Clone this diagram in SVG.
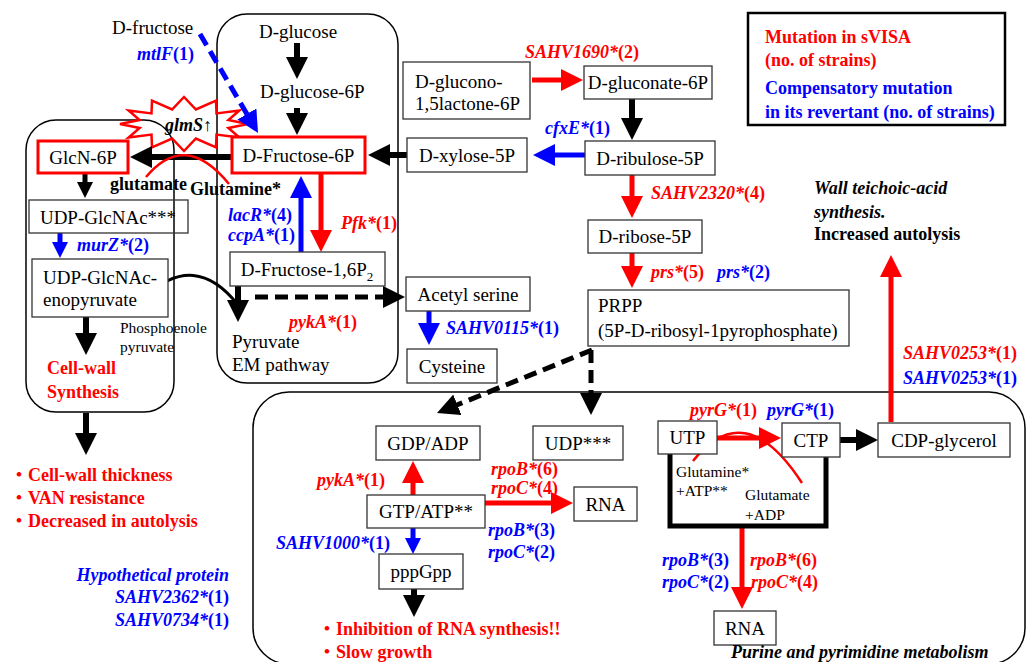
<svg xmlns="http://www.w3.org/2000/svg" width="1028" height="662" viewBox="0 0 1028 662" font-family="'Liberation Serif', 'Times New Roman', Times, 'DejaVu Serif', serif">
<defs>
<style>
text{font-family:'Liberation Serif','Times New Roman',Times,'Noto Sans CJK JP',serif}
.cont{fill:none;stroke:#000;stroke-width:1.5}
.box{fill:#fff;stroke:#333;stroke-width:1.3}
.rbox{fill:#fff;stroke:#f00;stroke-width:3}
.t{font-size:19px;fill:#000}
.ctr{text-anchor:middle}
.sm{font-size:15.5px}
.lb{font-size:18px;font-weight:bold}
.r{fill:#f00}
.b{fill:#00f}
.k{fill:#000}
.it{font-style:italic}
.ak{stroke:#000;stroke-width:6;fill:none;marker-end:url(#hk)}
.aks{stroke:#000;stroke-width:5;fill:none;marker-end:url(#hks)}
.akd{stroke:#000;stroke-width:5;fill:none;stroke-dasharray:13 7;marker-end:url(#hk)}
.ar{stroke:#f00;stroke-width:5;fill:none;marker-end:url(#hr)}
.ab{stroke:#00f;stroke-width:5;fill:none;marker-end:url(#hb)}
.abs{stroke:#00f;stroke-width:5;fill:none;marker-end:url(#hbs)}
.abd{stroke:#00f;stroke-width:5;fill:none;stroke-dasharray:13 7;marker-end:url(#hb)}
.arc{stroke:#f00;stroke-width:2.5;fill:none}
</style>
<marker id="hk" viewBox="0 0 22 22" markerWidth="22" markerHeight="22" markerUnits="userSpaceOnUse" refX="2" refY="11" orient="auto"><path d="M0,0 L22,11 L0,22 z" fill="#000"/></marker>
<marker id="hks" viewBox="0 0 16 16" markerWidth="16" markerHeight="16" markerUnits="userSpaceOnUse" refX="2" refY="8" orient="auto"><path d="M0,0 L16,8 L0,16 z" fill="#000"/></marker>
<marker id="hr" viewBox="0 0 22 22" markerWidth="22" markerHeight="22" markerUnits="userSpaceOnUse" refX="2" refY="11" orient="auto"><path d="M0,0 L22,11 L0,22 z" fill="#f00"/></marker>
<marker id="hb" viewBox="0 0 22 22" markerWidth="22" markerHeight="22" markerUnits="userSpaceOnUse" refX="2" refY="11" orient="auto"><path d="M0,0 L22,11 L0,22 z" fill="#00f"/></marker>
<marker id="hbs" viewBox="0 0 16 16" markerWidth="16" markerHeight="16" markerUnits="userSpaceOnUse" refX="2" refY="8" orient="auto"><path d="M0,0 L16,8 L0,16 z" fill="#00f"/></marker>
</defs>
<rect width="1028" height="662" fill="#fff"/>

<g id="containers">
<rect class="cont" x="26" y="120" width="148" height="292" rx="30"/>
<rect class="cont" x="217" y="14" width="181" height="369" rx="30"/>
<rect class="cont" x="253" y="392" width="772" height="272" rx="36"/>
</g>

<g id="legend">
<rect x="748" y="13" width="257" height="112" fill="#fff" stroke="#000" stroke-width="2.5"/>
<text class="lb r" x="765" y="43">Mutation in sVISA</text>
<text class="lb r" x="765" y="66">(no. of strains)</text>
<text class="lb b" x="765" y="94">Compensatory mutation</text>
<text class="lb b" x="765" y="118">in its revertant (no. of strains)</text>
</g>

<g id="glmS">
<polygon points="248,124 228.4,127.9 239.4,137.5 216.5,134.6 216,147.4 195.9,138.5 184,151 172.1,138.5 152,147.4 151.5,134.6 128.6,137.5 139.6,127.9 120,124 139.6,120.1 128.6,110.5 151.5,113.4 152,100.6 172.1,109.5 184,97 195.9,109.5 216,100.6 216.5,113.4 239.4,110.5 228.4,120.1" fill="none" stroke="#f00" stroke-width="2.5"/>
<text class="lb" x="165" y="131" font-size="17"><tspan class="it">glmS</tspan>↑</text>
</g>

<g id="connectors">
<path class="ak" d="M297,43 V59"/>
<path class="ak" d="M297,108 V115"/>
<path class="ak" d="M232,157 H150"/>
<path class="ak" d="M407,155 H388"/>
<path class="ak" d="M632,99 V120"/>
<path class="aks" d="M85,174 V184"/>
<path class="ak" d="M86,317 V335"/>
<path class="ak" d="M86,413 V435"/>
<path class="ak" d="M238,286 V302"/>
<path class="ak" d="M840,440 H858"/>
<path class="ak" d="M414,589 V597"/>
<path class="akd" d="M591,350 V395"/>
<path class="akd" d="M592,350 L455.5,405.5"/>
<path class="akd" d="M255,297 H385"/>
<path d="M145,297 Q195,250 238,305" fill="none" stroke="#000" stroke-width="3"/>
<path class="ar" d="M532,80 H563"/>
<path class="ar" d="M632,175 V198"/>
<path class="ar" d="M632,253 V268"/>
<path class="ar" d="M321,173 V232"/>
<path class="ar" d="M413,495 V481"/>
<path class="ar" d="M485,503 H553"/>
<path class="ar" d="M717,438 H761" stroke-width="6"/>
<path class="ar" d="M742,527 V589"/>
<path class="ar" d="M891,422 V275"/>
<path class="ab" d="M301,252 V196"/>
<path class="ab" d="M585,155 H553"/>
<path class="abs" d="M60,233 V244"/>
<path class="ab" d="M429,311 V325"/>
<path class="abs" d="M413,528 V540"/>
<path class="abd" d="M200,34 L247.9,115.7"/>
<path class="arc" d="M146,177 Q185,130 229,184"/>
<path class="arc" d="M693,461 Q745,395 802,483"/>
<path d="M670,454 V526 H826 V457" fill="none" stroke="#000" stroke-width="5"/>
</g>

<g id="n-dfructose"><text class="t" x="112" y="34">D-fructose</text></g>
<g id="n-dglucose"><text class="t" x="259" y="38">D-glucose</text></g>
<g id="n-dglucose6p"><text class="t" x="260" y="98">D-glucose-6P</text></g>
<g id="n-glcn6p"><rect class="rbox" x="38" y="141" width="90" height="32"/><text class="t ctr" x="83" y="164">GlcN-6P</text></g>
<g id="n-dfructose6p"><rect class="rbox" x="232" y="137" width="133" height="36"/><text class="t ctr" x="298.5" y="162">D-Fructose-6P</text></g>
<g id="n-dxylose5p"><rect class="box" x="407" y="138" width="120" height="34"/><text class="t ctr" x="467" y="162">D-xylose-5P</text></g>
<g id="n-dglucono"><rect class="box" x="403" y="62" width="127" height="57"/><text class="t" x="415" y="88">D-glucono-</text><text class="t" x="415" y="110">1,5lactone-6P</text></g>
<g id="n-dgluconate6p"><rect class="box" x="584" y="66" width="128" height="33"/><text class="t ctr" x="648" y="89">D-gluconate-6P</text></g>
<g id="n-dribulose5p"><rect class="box" x="585" y="141" width="130" height="34"/><text class="t ctr" x="650" y="165">D-ribulose-5P</text></g>
<g id="n-dribose5p"><rect class="box" x="588" y="220" width="114" height="33"/><text class="t ctr" x="645" y="243">D-ribose-5P</text></g>
<g id="n-prpp"><rect class="box" x="588" y="290" width="261" height="56"/><text class="t" x="598" y="312">PRPP</text><text class="t" x="598" y="337">(5P-D-ribosyl-1pyrophosphate)</text></g>
<g id="n-udpglcnac"><rect x="29" y="200" width="159" height="33" fill="none" stroke="#333" stroke-width="1.3"/><text class="t ctr" x="108" y="224">UDP-GlcNAc***</text></g>
<g id="n-enopyruvate"><rect class="box" x="32" y="259" width="136" height="58"/><text class="t" x="43" y="284">UDP-GlcNAc-</text><text class="t" x="43" y="306">enopyruvate</text></g>
<g id="n-dfructose16p2"><rect class="box" x="230" y="252" width="155" height="34"/><text class="t ctr" x="307" y="276">D-Fructose-1,6P<tspan dy="5" font-size="13">2</tspan></text></g>
<g id="n-pyruvate"><text class="t" x="232" y="348">Pyruvate</text><text class="t" x="232" y="371">EM pathway</text></g>
<g id="n-acetylserine"><rect class="box" x="406" y="277" width="124" height="34"/><text class="t ctr" x="468" y="301">Acetyl serine</text></g>
<g id="n-cysteine"><rect class="box" x="407" y="349" width="90" height="34"/><text class="t ctr" x="452" y="373">Cysteine</text></g>
<g id="n-gdpadp"><rect class="box" x="376" y="426" width="104" height="34"/><text class="t ctr" x="428" y="450">GDP/ADP</text></g>
<g id="n-udp"><rect class="box" x="533" y="426" width="90" height="34"/><text class="t ctr" x="578" y="450">UDP***</text></g>
<g id="n-gtpatp"><rect class="box" x="367" y="495" width="118" height="33"/><text class="t ctr" x="426" y="518">GTP/ATP**</text></g>
<g id="n-rna1"><rect class="box" x="574" y="487" width="63" height="34"/><text class="t ctr" x="605.5" y="511">RNA</text></g>
<g id="n-pppgpp"><rect class="box" x="379" y="554" width="84" height="35"/><text class="t ctr" x="421" y="578">pppGpp</text></g>
<g id="n-utp"><rect class="box" x="658" y="421" width="59" height="33"/><text class="t ctr" x="687.5" y="444">UTP</text></g>
<g id="n-ctp"><rect class="box" x="782" y="423" width="58" height="34"/><text class="t ctr" x="811" y="447">CTP</text></g>
<g id="n-cdpglycerol"><rect class="box" x="878" y="423" width="132" height="34"/><text class="t ctr" x="944" y="447">CDP-glycerol</text></g>
<g id="n-rna2"><rect class="box" x="714" y="611" width="62" height="34"/><text class="t ctr" x="745" y="635">RNA</text></g>

<g id="labels">
<text class="lb b" x="137" y="60"><tspan class="it">mtlF</tspan>(1)</text>
<text class="lb k" x="110" y="190" font-size="17">glutamate</text>
<text class="lb k" x="190" y="195" font-size="17">Glutamine*</text>
<text class="lb b" x="228" y="221"><tspan class="it">lacR*</tspan>(4)</text>
<text class="lb b" x="228" y="241"><tspan class="it">ccpA*</tspan>(1)</text>
<text class="lb r" x="341" y="229"><tspan class="it">Pfk*</tspan>(1)</text>
<text class="lb r" x="289" y="328"><tspan class="it">pykA*</tspan>(1)</text>
<text class="lb b" x="446" y="334"><tspan class="it">SAHV0115*</tspan>(1)</text>
<text class="t sm" x="120" y="333">Phosphoenole</text>
<text class="t sm" x="120" y="352">pyruvate</text>
<text class="lb r" x="47" y="374" font-size="18.5">Cell-wall</text>
<text class="lb r" x="47" y="398" font-size="18.5">Synthesis</text>
<text class="lb b" x="77" y="251"><tspan class="it">murZ*</tspan>(2)</text>
<text class="lb b" x="545" y="134"><tspan class="it">cfxE*</tspan>(1)</text>
<text class="lb r" x="525" y="58"><tspan class="it">SAHV1690*</tspan>(2)</text>
<text class="lb r" x="651" y="199"><tspan class="it">SAHV2320*</tspan>(4)</text>
<text class="lb r" x="651" y="278"><tspan class="it">prs*</tspan>(5)</text>
<text class="lb b" x="717" y="278"><tspan class="it">prs*</tspan>(2)</text>
<text class="lb k it" x="814" y="194">Wall teichoic-acid</text>
<text class="lb k it" x="814" y="218">synthesis.</text>
<text class="lb k" x="814" y="240">Increased autolysis</text>
<text class="lb r" x="903" y="359"><tspan class="it">SAHV0253*</tspan>(1)</text>
<text class="lb b" x="903" y="384"><tspan class="it">SAHV0253*</tspan>(1)</text>
<text class="lb r" x="690" y="416"><tspan class="it">pyrG*</tspan>(1)</text>
<text class="lb b" x="767" y="416"><tspan class="it">pyrG*</tspan>(1)</text>
<text class="t sm" x="676" y="477">Glutamine*</text>
<text class="t sm" x="676" y="496">+ATP**</text>
<text class="t sm" x="745" y="500">Glutamate</text>
<text class="t sm" x="745" y="520">+ADP</text>
<text class="lb b" x="662" y="566"><tspan class="it">rpoB*</tspan>(3)</text>
<text class="lb b" x="662" y="588"><tspan class="it">rpoC*</tspan>(2)</text>
<text class="lb r" x="750" y="566"><tspan class="it">rpoB*</tspan>(6)</text>
<text class="lb r" x="751" y="588"><tspan class="it">rpoC*</tspan>(4)</text>
<text class="lb k it" x="731" y="658">Purine and pyrimidine metabolism</text>
<text class="lb r" x="317" y="486"><tspan class="it">pykA*</tspan>(1)</text>
<text class="lb r" x="491" y="475"><tspan class="it">rpoB*</tspan>(6)</text>
<text class="lb r" x="491" y="494"><tspan class="it">rpoC*</tspan>(4)</text>
<text class="lb b" x="488" y="536"><tspan class="it">rpoB*</tspan>(3)</text>
<text class="lb b" x="488" y="558"><tspan class="it">rpoC*</tspan>(2)</text>
<text class="lb b" x="276" y="549"><tspan class="it">SAHV1000*</tspan>(1)</text>
<text class="lb r" x="318" y="635">・Inhibition of RNA synthesis!!</text>
<text class="lb r" x="318" y="658">・Slow growth</text>
<text class="lb r" x="10" y="481">・Cell-wall thickness</text>
<text class="lb r" x="10" y="504">・VAN resistance</text>
<text class="lb r" x="10" y="527">・Decreased in autolysis</text>
<text class="lb b it" x="229" y="581" text-anchor="end">Hypothetical protein</text>
<text class="lb b" x="229" y="603" text-anchor="end"><tspan class="it">SAHV2362*</tspan>(1)</text>
<text class="lb b" x="229" y="626" text-anchor="end"><tspan class="it">SAHV0734*</tspan>(1)</text>
</g>
</svg>
